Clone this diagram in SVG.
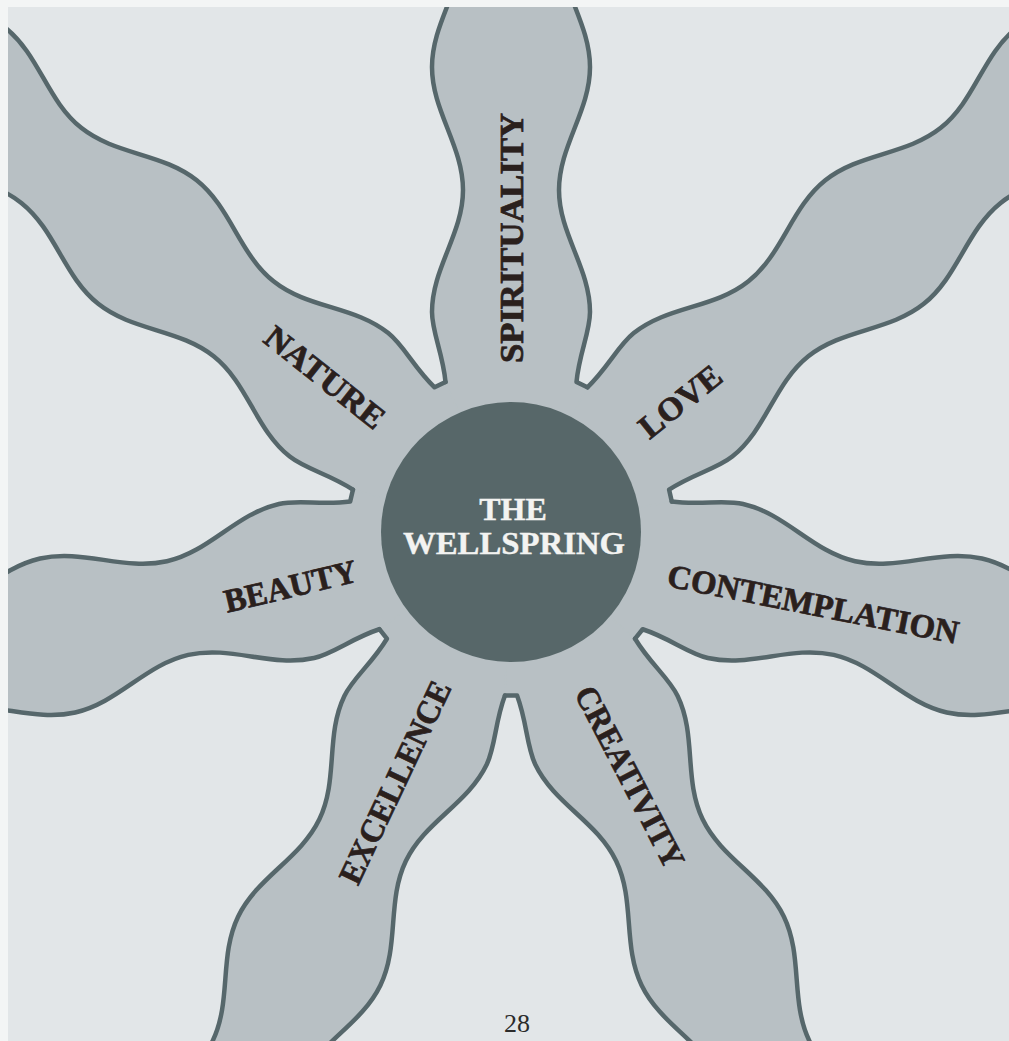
<svg xmlns="http://www.w3.org/2000/svg" width="1009" height="1041" viewBox="0 0 1009 1041">
<style>
.armfill{fill:#b8c0c4;stroke:#b8c0c4;stroke-width:1.5;stroke-linejoin:round}
.armline{fill:none;stroke:#56676b;stroke-width:4.5;stroke-linecap:round;stroke-linejoin:round}
.label{font-family:"Liberation Serif","DejaVu Serif",serif;font-weight:bold;font-size:33px;fill:#2a201d;stroke:#2a201d;stroke-width:0.7;text-anchor:middle}
.hub{font-family:"Liberation Serif","DejaVu Serif",serif;font-weight:bold;font-size:32px;fill:#f3f3f1;stroke:#f3f3f1;stroke-width:0.4;text-anchor:middle}
.page{font-family:"Liberation Serif","DejaVu Serif",serif;font-size:26px;fill:#2b2b2b;text-anchor:middle}
</style>
<defs>
<clipPath id="pageclip"><rect x="8" y="7" width="1001" height="1034"/></clipPath>
<path id="armFill" class="armfill" d="M0,0 L150,-65.5 C178,-68 200,-79 220,-79 C264,-79 298,-48 342,-48 C386,-48 421,-79 465,-79 C509,-79 544,-48 588,-48 C632,-48 666,-79 710,-79 C754,-79 789,-48 832,-48 C876,-48 911,-79 955,-79 L955,79 C911,79 876,48 832,48 C789,48 754,79 710,79 C666,79 632,48 588,48 C544,48 509,79 465,79 C421,79 386,48 342,48 C298,48 264,79 220,79 C200,79 178,68 150,65.5 L144.7,76.4 Z"/>
<path id="armLine" class="armline" d="M150,-65.5 C178,-68 200,-79 220,-79 C264,-79 298,-48 342,-48 C386,-48 421,-79 465,-79 C509,-79 544,-48 588,-48 C632,-48 666,-79 710,-79 C754,-79 789,-48 832,-48 C876,-48 911,-79 955,-79 M955,79 C911,79 876,48 832,48 C789,48 754,79 710,79 C666,79 632,48 588,48 C544,48 509,79 465,79 C421,79 386,48 342,48 C298,48 264,79 220,79 C200,79 178,68 150,65.5 L144.7,76.4"/>
</defs>
<rect width="1009" height="1041" fill="#f3f5f5"/>
<g clip-path="url(#pageclip)">
<rect x="8" y="7" width="1001" height="1034" fill="#e2e6e8"/>
<g id="arm-spirituality"><use href="#armFill" transform="translate(511 532) rotate(-90)"/></g>
<g id="arm-love"><use href="#armFill" transform="translate(511 532) rotate(-38.571)"/></g>
<g id="arm-contemplation"><use href="#armFill" transform="translate(511 532) rotate(12.857)"/></g>
<g id="arm-creativity"><use href="#armFill" transform="translate(511 532) rotate(64.286)"/></g>
<g id="arm-excellence"><use href="#armFill" transform="translate(511 532) rotate(115.714)"/></g>
<g id="arm-beauty"><use href="#armFill" transform="translate(511 532) rotate(167.143)"/></g>
<g id="arm-nature"><use href="#armFill" transform="translate(511 532) rotate(218.571)"/></g>
<g id="connectors">
<use href="#armLine" transform="translate(511 532) rotate(-90)"/>
<use href="#armLine" transform="translate(511 532) rotate(-38.571)"/>
<use href="#armLine" transform="translate(511 532) rotate(12.857)"/>
<use href="#armLine" transform="translate(511 532) rotate(64.286)"/>
<use href="#armLine" transform="translate(511 532) rotate(115.714)"/>
<use href="#armLine" transform="translate(511 532) rotate(167.143)"/>
<use href="#armLine" transform="translate(511 532) rotate(218.571)"/>
</g>
</g>
<g id="labels">
<text class="label" x="523" y="238" textLength="250" lengthAdjust="spacingAndGlyphs" transform="rotate(-90 523 238)">SPIRITUALITY</text>
<text class="label" x="687" y="410" textLength="96" lengthAdjust="spacingAndGlyphs" transform="rotate(-38.5 687 410)">LOVE</text>
<text class="label" x="811" y="615" textLength="296" lengthAdjust="spacingAndGlyphs" transform="rotate(11.3 811 615)">CONTEMPLATION</text>
<text class="label" x="620" y="782" textLength="200" lengthAdjust="spacingAndGlyphs" transform="rotate(62.5 620 782)">CREATIVITY</text>
<text class="label" x="405" y="787" textLength="220" lengthAdjust="spacingAndGlyphs" transform="rotate(-64.7 405 787)">EXCELLENCE</text>
<text class="label" x="293" y="597" textLength="135" lengthAdjust="spacingAndGlyphs" transform="rotate(-13.5 293 597)">BEAUTY</text>
<text class="label" x="318" y="386" textLength="144" lengthAdjust="spacingAndGlyphs" transform="rotate(38.5 318 386)">NATURE</text>
</g>
<g id="wellspring">
<circle cx="511" cy="532" r="130" fill="#576769"/>
<text class="hub" x="513" y="520">THE</text>
<text class="hub" x="514" y="554" textLength="222" lengthAdjust="spacingAndGlyphs">WELLSPRING</text>
</g>
<text class="page" x="517" y="1032">28</text>
</svg>
